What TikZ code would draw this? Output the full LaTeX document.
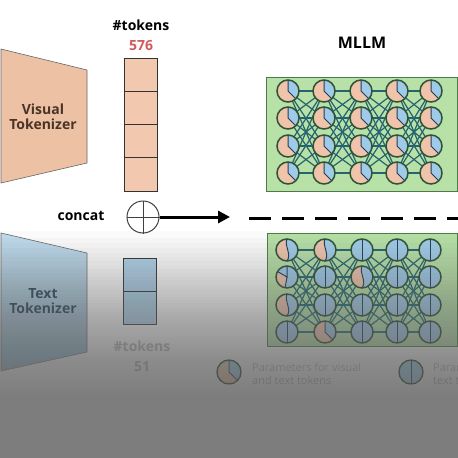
\documentclass[tikz,border=0pt]{standalone}
\usepackage{fontspec}
\setmainfont{Open Sans}
\usetikzlibrary{arrows.meta}
\definecolor{peachT}{HTML}{EDC1A4}
\definecolor{peachC}{HTML}{F2C8AE}
\definecolor{peachP}{HTML}{EFC4AA}
\definecolor{blueT}{HTML}{A8CFE8}
\definecolor{blueC}{HTML}{AED2EA}
\definecolor{blueP}{HTML}{9FCBE8}
\definecolor{boxG}{HTML}{B7E1A6}
\definecolor{boxS}{HTML}{4C7A4C}
\definecolor{ringC}{HTML}{2F5236}
\definecolor{segC}{HTML}{243A5A}
\definecolor{connC}{HTML}{24636F}
\definecolor{brownTxt}{HTML}{4A3426}
\definecolor{blueTxt}{HTML}{2D4A5C}
\definecolor{redTxt}{HTML}{D45A5A}
\definecolor{fadedTxt}{HTML}{B3B3B3}
\definecolor{legTxt}{HTML}{B0B0B0}
\definecolor{ovl}{HTML}{6D6D6D}
\tikzset{
  tok/.style={draw=black!80, line width=0.9pt, minimum width=33pt, minimum height=33.25pt, inner sep=0pt},
  trapV/.style={fill=peachT, draw=black!60, line width=0.6pt},
  trapT/.style={top color=blueT!70!white, bottom color=blueT!85!black, draw=black!60, line width=0.6pt},
  lbl/.style={font=\bfseries\fontsize{14}{16}\selectfont, align=center, inner sep=0pt},
  gbox/.style={fill=boxG, draw=boxS, line width=1pt},
  conn/.style={draw=connC, line width=1.2pt},
  ring/.style={draw=ringC, line width=1.5pt},
  seg/.style={draw=segC, line width=1pt},
  slot/.style={circle, minimum size=22pt, inner sep=0pt},
  legtxt/.style={font=\fontsize{11}{13}\selectfont, align=left, anchor=west, inner sep=0pt, text=legTxt},
}
% pie for visual and text tokens
\newcommand\pieVT[2][11]{%
  \begin{scope}[shift={(#2.center)}, y=1pt]
    \fill[peachP] (0,0) circle[radius=#1];
    \fill[blueP] (0,0) -- (90:#1) arc[start angle=90, end angle=-45, radius=#1] -- cycle;
    \draw[seg] (90:#1) -- (0,0) -- (-45:#1);
    \draw[ring] (0,0) circle[radius=#1];
  \end{scope}}
% text-only circle
\newcommand\pieTX[2][11]{%
  \begin{scope}[shift={(#2.center)}, y=1pt]
    \fill[blueP] (0,0) circle[radius=#1];
    \draw[seg] (0,#1) -- (0,-#1);
    \draw[ring] (0,0) circle[radius=#1];
  \end{scope}}
% half mixed circle
\newcommand\pieHM[1]{%
  \begin{scope}[shift={(#1.center)}, y=1pt]
    \fill[blueP] (0,0) circle[radius=11];
    \fill[peachP] (0,11) arc[start angle=90, end angle=270, radius=11] .. controls (5,-4) and (-3,4) .. (0,11) -- cycle;
    \draw[seg] (0,-11) .. controls (5,-4) and (-3,4) .. (0,11);
    \draw[ring] (0,0) circle[radius=11];
  \end{scope}}
% wedge mixed circle
\newcommand\pieWM[1]{%
  \begin{scope}[shift={(#1.center)}, y=1pt]
    \fill[blueP] (0,0) circle[radius=11];
    \fill[peachP] (0,0) -- (150:11) arc[start angle=150, end angle=260, radius=11] -- cycle;
    \draw[seg] (0,11) -- (0,0) -- (150:11);
    \draw[seg] (0,0) -- (260:11);
    \draw[ring] (0,0) circle[radius=11];
  \end{scope}}
\begin{document}
\begin{tikzpicture}[x=1pt, y=-1pt]
\useasboundingbox (0,0) rectangle (458,458);
\fill[white] (0,0) rectangle (458,458);

% ---------- Visual tokenizer ----------
\draw[trapV] (1,49) -- (87,70) -- (87,163) -- (1,183) -- cycle;
\node[lbl, text=brownTxt] (vtok) at (43,117) {Visual\\[-1pt]Tokenizer};

\node[lbl] (vhash) at (141,25) {\#tokens};
\node[lbl, text=redTxt] (vnum) at (141,46) {576};
\foreach \i in {1,...,4}{
  \node[tok, fill=peachC] (v\i) at (140.5,{58+33.25*(\i-0.5)}) {};
}

% ---------- concat ----------
\node[lbl] (concat) at (81,216) {concat};
\node[circle, draw=black!75, line width=1pt, minimum size=32pt, inner sep=0pt] (cat) at (143,217) {};
\draw[black!75, line width=1pt] (cat.north) -- (cat.south) (cat.west) -- (cat.east);
\coordinate (arrEnd) at (230,217);
\draw[line width=3pt, -{Triangle[length=12pt, width=12pt]}] (cat.east) -- (arrEnd);
\coordinate (dashA) at (249,218);
\coordinate (dashB) at (460,218);
\draw[line width=3pt, dash pattern=on 22pt off 11pt] (dashA) -- (dashB);

% ---------- Text tokenizer ----------
\draw[trapT] (1,233) -- (87,253) -- (87,352) -- (1,371) -- cycle;
\node[lbl, text=blueTxt] (ttok) at (43,301) {Text\\[-1pt]Tokenizer};
\foreach \i in {1,2}{
  \node[tok, fill=blueC, minimum height=33pt] (t\i) at (140,{258+33*(\i-0.5)}) {};
}
\node[lbl, text=fadedTxt] (thash) at (142,346) {\#tokens};
\node[lbl, text=fadedTxt] (tnum) at (142,367) {51};

% ---------- MLLM ----------
\node[font=\bfseries\fontsize{16}{18}\selectfont, inner sep=0pt] (mllm) at (362,43) {MLLM};
\draw[gbox] (266,77) rectangle (457,191);
\draw[gbox] (267,233) rectangle (457,346);

% upper slots
\foreach \c/\x in {1/288,2/324,3/361,4/397,5/431}{
  \foreach \r/\y in {1/91,2/118,3/146,4/173}{
    \node[slot] (u-\c-\r) at (\x,\y) {};
  }
}
% lower slots
\foreach \c/\x in {1/287,2/325,3/362,4/397,5/430}{
  \foreach \r/\y in {1/250,2/277,3/305,4/332}{
    \node[slot] (l-\c-\r) at (\x,\y) {};
  }
}
% connections
\foreach \c in {1,...,4}{
  \pgfmathtruncatemacro\cn{\c+1}
  \foreach \r in {1,...,4}{
    \foreach \k in {1,...,4}{
      \draw[conn] (u-\c-\r.center) -- (u-\cn-\k.center);
      \draw[conn] (l-\c-\r.center) -- (l-\cn-\k.center);
    }
  }
}
% upper pies
\foreach \c in {1,...,5}{
  \foreach \r in {1,...,4}{
    \pieVT{u-\c-\r}
  }
}
% lower pies
\foreach \n in {l-3-1,l-4-1,l-5-1,l-2-2,l-4-2,l-5-2,l-2-3,l-3-3,l-4-3,l-5-3,l-1-4,l-3-4,l-4-4,l-5-4}{
  \pieTX{\n}
}
\pieHM{l-1-1}
\pieHM{l-2-1}
\pieHM{l-3-2}
\pieHM{l-1-3}
\pieWM{l-1-2}
\pieVT{l-2-4}

% ---------- legend ----------
\node[slot, minimum size=24pt] (leg1) at (229,372) {};
\pieVT[12]{leg1}
\node[legtxt] (leg1t) at (252,373.5) {Parameters for visual\\and text tokens};
\node[slot, minimum size=24pt] (leg2) at (411,372) {};
\pieTX[12]{leg2}
\begin{scope}
  \clip (0,0) rectangle (458,458);
  \node[legtxt] (leg2t) at (433,373.5) {Parameters for\\text tokens};
\end{scope}

% ---------- gray fade overlay (equal-opacity layers) ----------
\foreach \k in {0,...,52}{
  \pgfmathsetmacro\ya{226+170*((\k+0.5)/53)^0.75}
  \fill[ovl, fill opacity=0.03] (0,\ya) rectangle (458,458);
}
\end{tikzpicture}
\end{document}
